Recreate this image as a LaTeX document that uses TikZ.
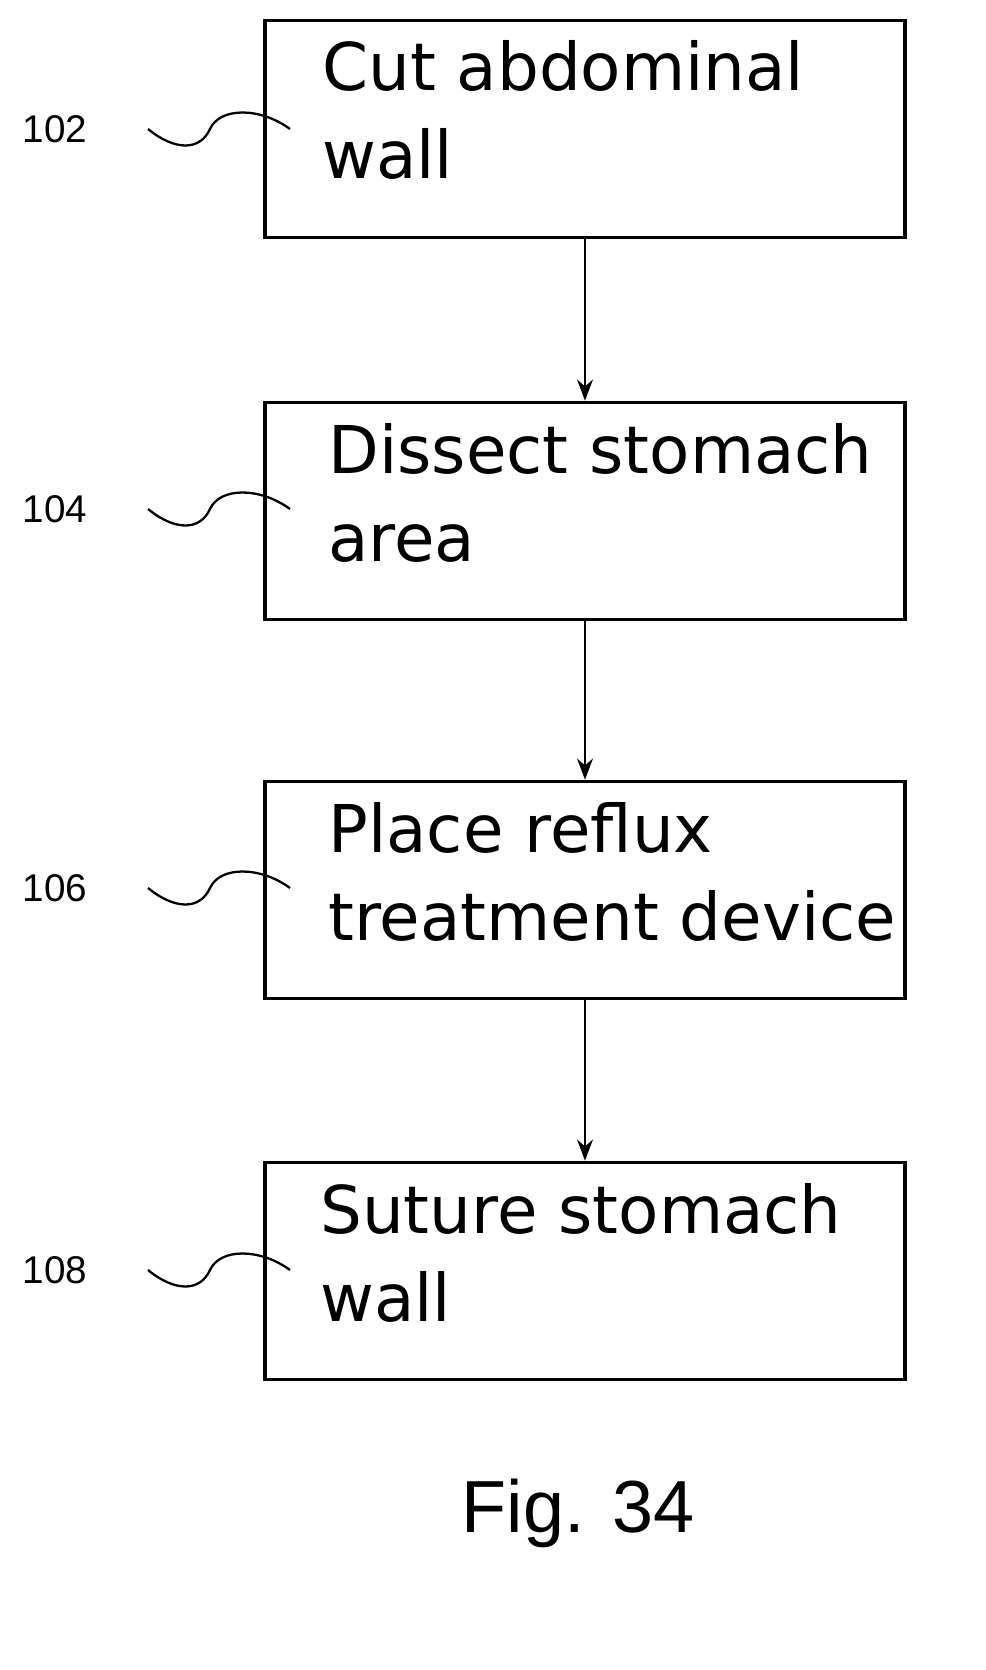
\documentclass[tikz,border=0pt]{standalone}
\usepackage{fontspec}
\setmainfont{DejaVu Sans}
\newfontfamily\lblfont{Liberation Sans}
\usetikzlibrary{positioning,arrows.meta}
\tikzset{
  stepbox/.style={draw,line width=1.8pt,minimum width=12.8cm,minimum height=4.35cm,inner sep=0pt},
  steptext/.style={anchor=north west,align=left,inner sep=0pt,font=\fontsize{37.5}{50}\selectfont},
  ref/.style={font=\lblfont\fontsize{22}{24}\selectfont},
  lead/.style={line width=1.3pt},
  flow/.style={-{Stealth[length=12pt,width=9pt]},line width=1.5pt}
}
\begin{document}
\begin{tikzpicture}[x=0.02cm,y=-0.02cm]
  \useasboundingbox (0,0) rectangle (985,1670);
  \node[stepbox] (s1) at (585,129) {};
  \node[stepbox] (s2) at (585,511) {};
  \node[stepbox] (s3) at (585,890) {};
  \node[stepbox] (s4) at (585,1271) {};
  \node[steptext] (t1) at (322,40) {Cut abdominal\\wall};
  \node[steptext] (t2) at (328,423) {Dissect stomach\\area};
  \node[steptext] (t3) at (328,802) {Place reflux\\treatment device};
  \node[steptext] (t4) at (320,1183) {Suture stomach\\wall};
  \draw[flow] (s1) -- (s2);
  \draw[flow] (s2) -- (s3);
  \draw[flow] (s3) -- (s4);
  \foreach \n/\y in {102/129,104/509,106/888,108/1270}{
    \node[ref] (r\n) at (55,\y) {\n};
    \draw[lead] (148,\y) .. controls (175,\y+22) and (200,\y+22) .. (210,\y)
      .. controls (220,\y-22) and (260,\y-22) .. (290,\y);
  }
  \node[font=\lblfont\fontsize{42}{48}\selectfont] (fig) at (578,1513) {Fig. 34};
\end{tikzpicture}
\end{document}
